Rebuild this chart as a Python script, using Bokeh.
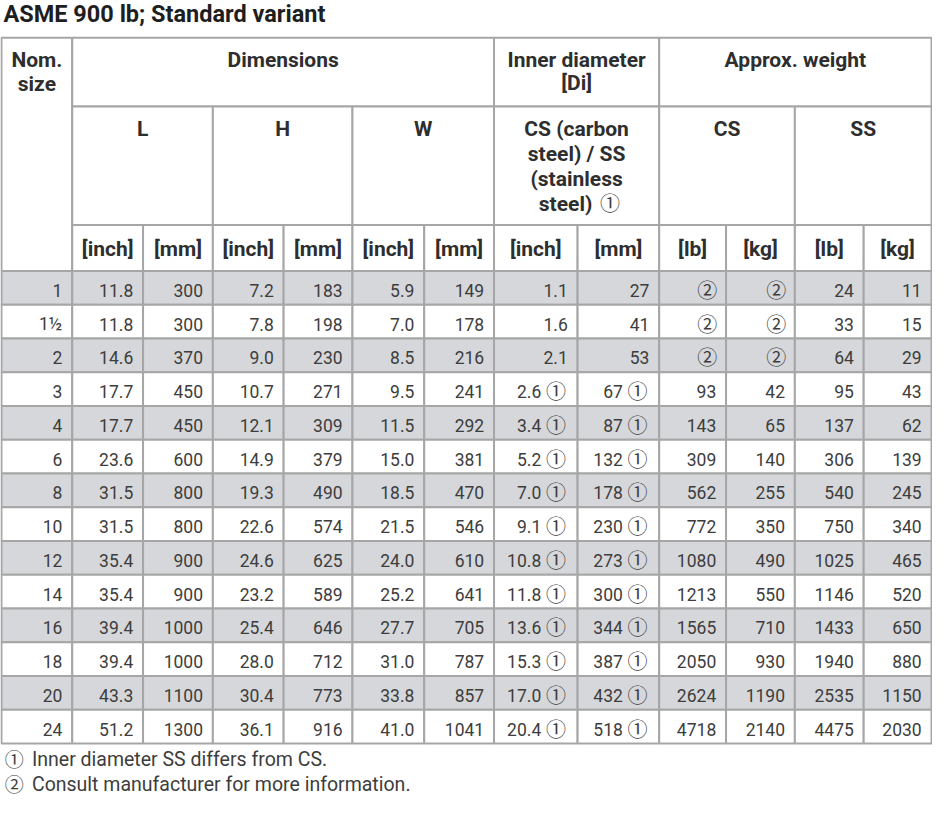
from bokeh.plotting import figure
from bokeh.models import Range1d
from bokeh.core.properties import value
from bokeh.embed import file_html
from bokeh.resources import INLINE

# ---------------- data ----------------
title = "ASME 900 lb; Standard variant"
nom_size = ["1", "1½", "2", "3", "4", "6", "8", "10", "12", "14", "16", "18", "20", "24"]
L_inch = [11.8, 11.8, 14.6, 17.7, 17.7, 23.6, 31.5, 31.5, 35.4, 35.4, 39.4, 39.4, 43.3, 51.2]
L_mm = [300, 300, 370, 450, 450, 600, 800, 800, 900, 900, 1000, 1000, 1100, 1300]
H_inch = [7.2, 7.8, 9.0, 10.7, 12.1, 14.9, 19.3, 22.6, 24.6, 23.2, 25.4, 28.0, 30.4, 36.1]
H_mm = [183, 198, 230, 271, 309, 379, 490, 574, 625, 589, 646, 712, 773, 916]
W_inch = [5.9, 7.0, 8.5, 9.5, 11.5, 15.0, 18.5, 21.5, 24.0, 25.2, 27.7, 31.0, 33.8, 41.0]
W_mm = [149, 178, 216, 241, 292, 381, 470, 546, 610, 641, 705, 787, 857, 1041]
Di_inch = [1.1, 1.6, 2.1, 2.6, 3.4, 5.2, 7.0, 9.1, 10.8, 11.8, 13.6, 15.3, 17.0, 20.4]
Di_mm = [27, 41, 53, 67, 87, 132, 178, 230, 273, 300, 344, 387, 432, 518]
Di_note1 = [False, False, False, True, True, True, True, True, True, True, True, True, True, True]
CS_lb = [None, None, None, 93, 143, 309, 562, 772, 1080, 1213, 1565, 2050, 2624, 4718]
CS_kg = [None, None, None, 42, 65, 140, 255, 350, 490, 550, 710, 930, 1190, 2140]
SS_lb = [24, 33, 64, 95, 137, 306, 540, 750, 1025, 1146, 1433, 1940, 2535, 4475]
SS_kg = [11, 15, 29, 43, 62, 139, 245, 340, 465, 520, 650, 880, 1150, 2030]

first_header = "Nom.\nsize"
group_headers = ["Dimensions", "Inner diameter\n[Di]", "Approx. weight"]
sub_headers = ["L", "H", "W", "CS (carbon\nsteel) / SS\n(stainless\nsteel) ①", "CS", "SS"]
unit_headers = ["[inch]", "[mm]", "[inch]", "[mm]", "[inch]", "[mm]",
                "[inch]", "[mm]", "[lb]", "[kg]", "[lb]", "[kg]"]
footnote_marks = ["①", "②"]
footnotes = ["Inner diameter SS differs from CS.",
             "Consult manufacturer for more information."]

# ---------------- layout ----------------
col_x = [1, 73, 145, 216, 288, 358, 431, 502, 587, 670, 738, 808, 878, 947]
y_top, y_h1, y_h2, y_h3 = 38, 108, 229, 276
y_bottom = 758
n = len(nom_size)
row_h = (y_bottom - y_h3) / n

FONT = "Roboto"
CJK = "Noto Sans CJK JP"
TXT = "#3d3d3d"
HDR = "#2e2e2e"
GRID = "#a6a6a6"
SHADE = "#d5d7da"

p = figure(width=932, height=799, x_range=Range1d(0, 948), y_range=Range1d(815, 0),
           output_backend="svg", toolbar_location=None, min_border=0)
p.axis.visible = False
p.grid.visible = False
p.outline_line_color = None
p.background_fill_color = "white"
p.border_fill_color = "white"

# ---------------- cells ----------------
cl, cr, ct, cb, cf = [], [], [], [], []
def cell(x0, x1, y0, y1, fill="white"):
    cl.append(x0); cr.append(x1); ct.append(y0); cb.append(y1); cf.append(fill)

cell(col_x[0], col_x[1], y_top, y_h3)
group_spans = [(1, 7), (7, 9), (9, 13)]
for a, b in group_spans:
    cell(col_x[a], col_x[b], y_top, y_h1)
sub_spans = [(1, 3), (3, 5), (5, 7), (7, 9), (9, 11), (11, 13)]
for a, b in sub_spans:
    cell(col_x[a], col_x[b], y_h1, y_h2)
for j in range(1, 13):
    cell(col_x[j], col_x[j + 1], y_h2, y_h3)
for i in range(n):
    fill = SHADE if i % 2 == 0 else "white"
    for j in range(13):
        cell(col_x[j], col_x[j + 1], y_h3 + i * row_h, y_h3 + (i + 1) * row_h, fill)

p.quad(left=cl, right=cr, top=ct, bottom=cb, fill_color=cf, line_color=GRID, line_width=2)

# ---------------- header texts ----------------
hx, hy, ht = [], [], []          # centered bold lines
hrx, hry, hrt = [], [], []       # right-aligned bold parts (before a mark)
mx, my, mt, ms = [], [], [], []  # circled marks (CJK font)

def header_lines(text, xc, y0, step):
    for k, line in enumerate(text.split("\n")):
        y = y0 + k * step
        if line.endswith(" ①"):
            hrx.append(xc + 16); hry.append(y); hrt.append(line[:-2])
            mx.append(xc + 34); my.append(y - 1); mt.append("①"); ms.append("20px")
        else:
            hx.append(xc); hy.append(y); ht.append(line)

header_lines(first_header, (col_x[0] + col_x[1]) / 2, 61, 24)
for (a, b), t in zip(group_spans, group_headers):
    header_lines(t, (col_x[a] + col_x[b]) / 2, 61, 23)
for (a, b), t in zip(sub_spans, sub_headers):
    header_lines(t, (col_x[a] + col_x[b]) / 2, 131, 25.5)
for j, t in enumerate(unit_headers):
    header_lines(t, (col_x[j + 1] + col_x[j + 2]) / 2, 253, 0)

p.text(x=hx, y=hy, text=ht, text_font=value(FONT), text_font_style="bold",
       text_font_size="21px", text_color=HDR, text_align="center", text_baseline="middle")
p.text(x=hrx, y=hry, text=hrt, text_font=value(FONT), text_font_style="bold",
       text_font_size="21px", text_color=HDR, text_align="right", text_baseline="middle")

# ---------------- data texts ----------------
def f1(v):
    return f"{v:.1f}"

plain_cols = [
    nom_size,
    [f1(v) for v in L_inch], [str(v) for v in L_mm],
    [f1(v) for v in H_inch], [str(v) for v in H_mm],
    [f1(v) for v in W_inch], [str(v) for v in W_mm],
]
dx, dy, dt = [], [], []
def row_y(i):
    return y_h3 + (i + 0.5) * row_h + 2.5

for j, col in enumerate(plain_cols):
    for i, t in enumerate(col):
        dx.append(col_x[j + 1] - 10); dy.append(row_y(i)); dt.append(t)

# inner diameter with note ①
for j, (vals, fmt) in enumerate([(Di_inch, f1), (Di_mm, str)]):
    right = col_x[8 + j]
    for i, (v, m) in enumerate(zip(vals, Di_note1)):
        if m:
            dx.append(right - 37); dy.append(row_y(i)); dt.append(fmt(v))
            mx.append(right - 22); my.append(row_y(i) - 1); mt.append("①"); ms.append("20px")
        else:
            dx.append(right - 10); dy.append(row_y(i)); dt.append(fmt(v))

# weights (None -> consult manufacturer ②)
for j, vals in enumerate([CS_lb, CS_kg, SS_lb, SS_kg]):
    right = col_x[10 + j]
    for i, v in enumerate(vals):
        if v is None:
            mx.append(right - 19); my.append(row_y(i) - 1); mt.append("②"); ms.append("20px")
        else:
            dx.append(right - 10); dy.append(row_y(i)); dt.append(str(v))

p.text(x=dx, y=dy, text=dt, text_font=value(FONT), text_font_size="17.5px",
       text_color=TXT, text_align="right", text_baseline="middle")

# ---------------- title & footnotes ----------------
p.text(x=[3], y=[14], text=[title], text_font=value(FONT), text_font_style="bold",
       text_font_size="23.5px", text_color="#1e1e1e", text_align="left", text_baseline="middle")
foot_y = [774, 800]
for k in range(2):
    mx.append(14); my.append(foot_y[k] - 1); mt.append(footnote_marks[k]); ms.append("19px")
p.text(x=[32, 32], y=foot_y, text=footnotes, text_font=value(FONT),
       text_font_size="19.5px", text_color=TXT, text_align="left", text_baseline="middle")

p.text(x=mx, y=my, text=mt, text_font=value(CJK), text_font_size=ms,
       text_color=TXT, text_align="center", text_baseline="middle")

open("out.html", "w").write(file_html(p, INLINE))
